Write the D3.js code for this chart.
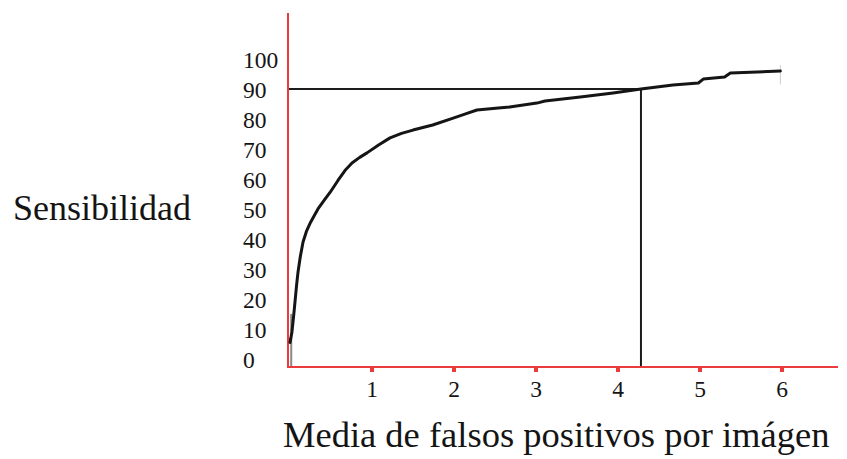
<!DOCTYPE html>
<html>
<head>
<meta charset="utf-8">
<script src="https://cdn.jsdelivr.net/npm/d3@7"></script>
<style>
  html, body { margin: 0; padding: 0; background: #fff; }
  svg { display: block; }
  text { font-family: "Liberation Serif", "Times New Roman", serif; fill: #141414; }
</style>
</head>
<body>
<svg id="chart" width="847" height="459"></svg>
<script>
// ---- data ----
const xTicks = [1, 2, 3, 4, 5, 6];
const yTicks = [0, 10, 20, 30, 40, 50, 60, 70, 80, 90, 100];
const curveX = [0.0, 0.024, 0.045, 0.061, 0.08, 0.098, 0.125, 0.159, 0.20, 0.25, 0.30, 0.341, 0.42, 0.488, 0.585, 0.67, 0.756, 0.85, 0.939, 1.08, 1.22, 1.36, 1.50, 1.74, 1.99, 2.15, 2.28, 2.54, 2.68, 3.01, 3.11, 3.54, 3.94, 4.28, 4.67, 4.98, 5.04, 5.30, 5.37, 5.98];
const curveY = [5.5, 9.0, 14.5, 19.0, 24.5, 29.0, 34.0, 39.0, 42.5, 45.5, 48.0, 50.0, 53.0, 55.5, 59.5, 62.8, 65.3, 67.2, 68.7, 71.3, 73.7, 75.2, 76.3, 78.0, 80.3, 81.8, 83.0, 83.7, 84.0, 85.3, 86.0, 87.3, 88.7, 90.0, 91.3, 92.0, 93.3, 94.0, 95.3, 96.0];
const markX = 4.28;   // operating point
const markY = 90;
const xTitle = "Media de falsos positivos por imágen";
const yTitle = "Sensibilidad";

// ---- layout ----
const svg = d3.select("#chart");
const x = d3.scaleLinear().domain([0, 6.7]).range([290, 839.4]);
const y = d3.scaleLinear().domain([-2.7, 100]).range([367, 59]);
const red = "#ec3b3b";

// axes lines
svg.append("line").attr("x1", 288).attr("x2", 288).attr("y1", 13).attr("y2", y(-2.7) + 1)
  .attr("stroke", red).attr("stroke-width", 2);
svg.append("line").attr("x1", 287).attr("x2", 838).attr("y1", y(-2.7)).attr("y2", y(-2.7))
  .attr("stroke", red).attr("stroke-width", 2);

// x tick marks & labels
svg.selectAll("rect.xt").data(xTicks).enter().append("rect")
  .attr("class", "xt")
  .attr("x", d => x(d) - 2).attr("y", y(-2.7) + 1)
  .attr("width", 4).attr("height", 4).attr("fill", red);
svg.selectAll("text.xl").data(xTicks).enter().append("text")
  .attr("class", "xl")
  .attr("x", d => x(d)).attr("y", 397)
  .attr("text-anchor", "middle").attr("font-size", 23.5)
  .text(d => d);

// y tick labels
svg.selectAll("text.yl").data(yTicks).enter().append("text")
  .attr("class", "yl")
  .attr("x", 243).attr("y", d => y(d) + 9)
  .attr("text-anchor", "start").attr("font-size", 23.5)
  .text(d => d);

// reference lines
svg.append("line").attr("x1", 289).attr("x2", x(markX)).attr("y1", y(markY)).attr("y2", y(markY))
  .attr("stroke", "#1c1c1c").attr("stroke-width", 2);
svg.append("line").attr("x1", x(markX)).attr("x2", x(markX)).attr("y1", y(markY)).attr("y2", y(-2.7) - 1)
  .attr("stroke", "#1c1c1c").attr("stroke-width", 2);

// faint grey start segment
svg.append("line").attr("x1", x(0.015)).attr("x2", x(0.015)).attr("y1", y(15)).attr("y2", y(-2.7) - 1)
  .attr("stroke", "#888").attr("stroke-width", 2);
svg.append("rect").attr("x", 287).attr("y", y(6) - 3).attr("width", 3).attr("height", 5).attr("fill", red);
// faint end tick
svg.append("line").attr("x1", x(5.98)).attr("x2", x(5.98)).attr("y1", y(98)).attr("y2", y(91.5))
  .attr("stroke", "#ccc").attr("stroke-width", 1);

// curve
const pts = curveX.map((d, i) => [d, curveY[i]]);
svg.append("path").datum(pts)
  .attr("fill", "none").attr("stroke", "#151515").attr("stroke-width", 3)
  .attr("stroke-linejoin", "round").attr("stroke-linecap", "round")
  .attr("d", d3.line().x(d => x(d[0])).y(d => y(d[1])).curve(d3.curveLinear));

// titles
svg.append("text").attr("x", 283).attr("y", 447).attr("font-size", 36.5).text(xTitle);
svg.append("text").attr("x", 13).attr("y", 220).attr("font-size", 36).text(yTitle);
</script>
</body>
</html>
